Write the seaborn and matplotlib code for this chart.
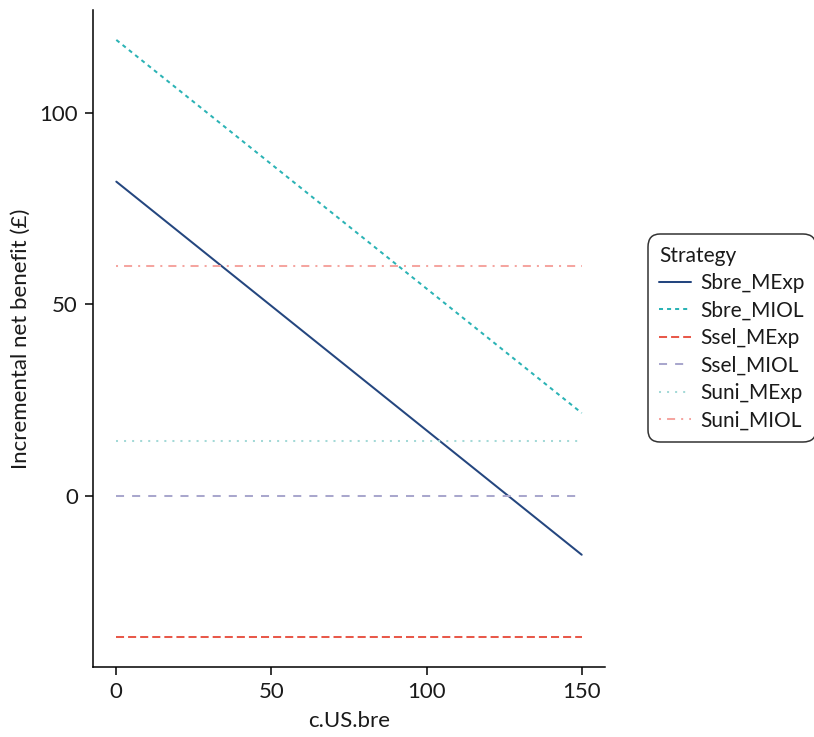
import matplotlib
matplotlib.use("Agg")
import matplotlib.pyplot as plt
import seaborn as sns
import pandas as pd

strategies = ["Sbre_MExp", "Sbre_MIOL", "Ssel_MExp", "Ssel_MIOL", "Suni_MExp", "Suni_MIOL"]
x_vals = [0, 150]
inb_start = [82.0, 119.0, -36.9, 0.0, 14.4, 60.0]
inb_end = [-15.4, 21.6, -36.9, 0.0, 14.4, 60.0]
x_ticks = [0, 50, 100, 150]
y_ticks = [0, 50, 100]

colors = ["#24467f", "#2bb3b5", "#e8594a", "#a9a7cd", "#a3d9d7", "#f5a5a0"]
dash_styles = ["", (2, 2), (4, 2), (4, 4), (1, 3), (1, 3, 4, 3)]

rows = []
for s, a, b in zip(strategies, inb_start, inb_end):
    rows.append({"c.US.bre": x_vals[0], "INB": a, "Strategy": s})
    rows.append({"c.US.bre": x_vals[1], "INB": b, "Strategy": s})
df = pd.DataFrame(rows)

sns.set_theme(style="ticks")
plt.rcParams["font.family"] = ["Lato", "DejaVu Sans"]

fig = plt.figure(figsize=(8.14, 7.37), dpi=100)
ax = fig.add_axes([0.1143, 0.095, 0.6289, 0.8914])

sns.lineplot(data=df, x="c.US.bre", y="INB", hue="Strategy", style="Strategy",
             hue_order=strategies, style_order=strategies,
             palette=dict(zip(strategies, colors)),
             dashes=dict(zip(strategies, dash_styles)),
             linewidth=1.45, ax=ax)

ax.set_xlim(-7.5, 157.5)
ax.set_ylim(-44.7, 126.8)
ax.set_xticks(x_ticks)
ax.set_yticks(y_ticks)
ax.tick_params(axis="both", labelsize=16, length=6, width=1.1, pad=5,
               color="black", labelcolor="#1a1a1a")
ax.set_xlabel("c.US.bre", fontsize=16, color="#1a1a1a", labelpad=6)
ax.set_ylabel("Incremental net benefit (£)", fontsize=16, color="#1a1a1a", labelpad=6)
for side in ["top", "right"]:
    ax.spines[side].set_visible(False)
for side in ["left", "bottom"]:
    ax.spines[side].set_linewidth(1.1)
    ax.spines[side].set_color("black")

handles, labels = ax.get_legend_handles_labels()
ax.legend_.remove()
leg = fig.legend(handles, labels, title="Strategy", loc="center left",
                 bbox_to_anchor=(0.796, 0.541), fontsize=15, title_fontsize=15,
                 frameon=True, fancybox=True, edgecolor="black", handlelength=1.5,
                 handletextpad=0.45, labelspacing=0.36, borderpad=0.55,
                 borderaxespad=0.0)
leg._legend_box.align = "left"
leg.get_frame().set_linewidth(1.1)
leg.get_frame().set_boxstyle("round,pad=0,rounding_size=0.6")
for t in leg.get_texts():
    t.set_color("#1a1a1a")
leg.get_title().set_color("#1a1a1a")

fig.savefig("out.png", dpi=100)
